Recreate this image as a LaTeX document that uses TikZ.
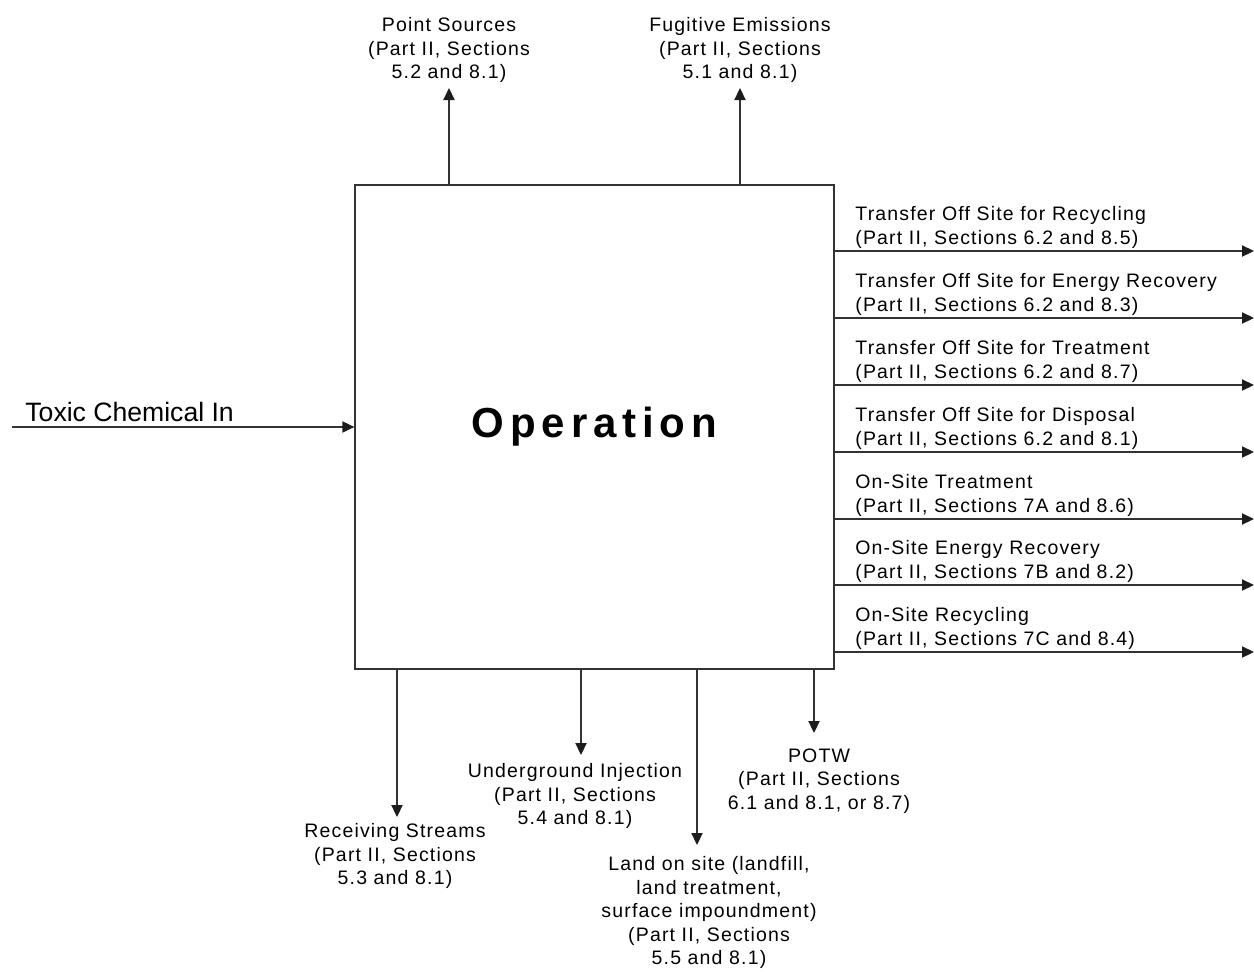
\documentclass[tikz,border=0pt]{standalone}
\usepackage{fontspec}
\setmainfont{Liberation Sans}[LetterSpace=6]
\usetikzlibrary{positioning,arrows.meta}

\newlength{\du}
\setlength{\du}{0.5pt}
\definecolor{flowcolor}{rgb}{0.200000, 0.200000, 0.200000}
\definecolor{tipcolor}{rgb}{0.120000, 0.110000, 0.110000}

\tikzset{
  flow/.style={draw=flowcolor, line width=1.3\du,
    -{Triangle[length=6pt,width=5.6pt,color=tipcolor]}},
  lbl/.style={inner sep=0pt, align=center, font=\fontsize{9.75pt}{11.75pt}\selectfont},
  rlbl/.style={inner sep=0pt, align=left, anchor=south west,
    font=\fontsize{9.75pt}{12.25pt}\selectfont},
}

\begin{document}
\begin{tikzpicture}[x=\du, y=-\du]
\useasboundingbox (0,0) rectangle (1254,971);

% operation box
\node[draw=flowcolor, line width=1.3\du, minimum width=479\du, minimum height=484\du,
  inner sep=0pt, font=\fontsize{21pt}{25pt}\selectfont\bfseries\addfontfeature{LetterSpace=14}]
  (op) at (594.5,427) {\raisebox{-3\du}{Operation}};

% input
\coordinate (in) at (12,427);
\draw[flow] (in) -- (op.west |- in);
\node[anchor=base west, inner sep=0pt, font=\fontsize{13.3pt}{15pt}\selectfont\addfontfeature{LetterSpace=0}]
  (inlbl) at (25,421) {Toxic Chemical In};

% air
\coordinate (ps) at (449,88);
\draw[flow] (op.north -| ps) -- (ps);
\node[lbl, above=5\du of ps] (pslbl) {Point Sources\\(Part II, Sections\\5.2 and 8.1)};
\coordinate (fe) at (740,88);
\draw[flow] (op.north -| fe) -- (fe);
\node[lbl, above=5\du of fe] (felbl) {Fugitive Emissions\\(Part II, Sections\\5.1 and 8.1)};

% water and land
\coordinate (rs) at (397,817);
\draw[flow] (op.south -| rs) -- (rs);
\node[lbl, below=6\du of rs, xshift=-2\du] (rslbl) {Receiving Streams\\(Part II, Sections\\5.3 and 8.1)};
\coordinate (ui) at (581,755);
\draw[flow] (op.south -| ui) -- (ui);
\node[lbl, below=8\du of ui, xshift=-6\du] (uilbl) {Underground Injection\\(Part II, Sections\\5.4 and 8.1)};
\coordinate (ld) at (697,845);
\draw[flow] (op.south -| ld) -- (ld);
\node[lbl, below=11\du of ld, xshift=12\du] (ldlbl) {Land on site (landfill,\\land treatment,\\surface impoundment)\\(Part II, Sections\\5.5 and 8.1)};
\coordinate (pw) at (814,733);
\draw[flow] (op.south -| pw) -- (pw);
\node[lbl, below=15\du of pw, xshift=5\du] (pwlbl) {POTW\\(Part II, Sections\\6.1 and 8.1, or 8.7)};

% transfers and on-site
\coordinate (r1) at (1254,251);
\draw[flow] (op.east |- r1) -- (r1);
\node[rlbl] (r1lbl) at (855,249) {Transfer Off Site for Recycling\\(Part II, Sections 6.2 and 8.5)};
\coordinate (r2) at (1254,318);
\draw[flow] (op.east |- r2) -- (r2);
\node[rlbl] (r2lbl) at (855,316) {Transfer Off Site for Energy Recovery\\(Part II, Sections 6.2 and 8.3)};
\coordinate (r3) at (1254,385);
\draw[flow] (op.east |- r3) -- (r3);
\node[rlbl] (r3lbl) at (855,383) {Transfer Off Site for Treatment\\(Part II, Sections 6.2 and 8.7)};
\coordinate (r4) at (1254,452);
\draw[flow] (op.east |- r4) -- (r4);
\node[rlbl] (r4lbl) at (855,450) {Transfer Off Site for Disposal\\(Part II, Sections 6.2 and 8.1)};
\coordinate (r5) at (1254,519);
\draw[flow] (op.east |- r5) -- (r5);
\node[rlbl] (r5lbl) at (855,517) {On-Site Treatment\\(Part II, Sections 7A and 8.6)};
\coordinate (r6) at (1254,585);
\draw[flow] (op.east |- r6) -- (r6);
\node[rlbl] (r6lbl) at (855,583) {On-Site Energy Recovery\\(Part II, Sections 7B and 8.2)};
\coordinate (r7) at (1254,652);
\draw[flow] (op.east |- r7) -- (r7);
\node[rlbl] (r7lbl) at (855,650) {On-Site Recycling\\(Part II, Sections 7C and 8.4)};
\end{tikzpicture}
\end{document}
